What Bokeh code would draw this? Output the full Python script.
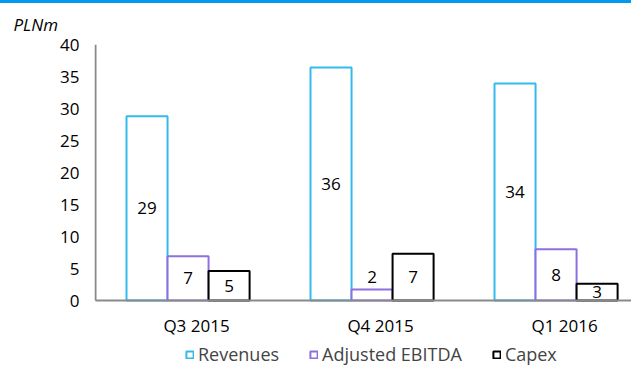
from bokeh.plotting import figure
from bokeh.models import ColumnDataSource, FixedTicker, Legend, LegendItem, Range1d, Div
from bokeh.layouts import column
from bokeh.embed import file_html
from bokeh.resources import INLINE
from bokeh.core.properties import value

categories = ["Q3 2015", "Q4 2015", "Q1 2016"]
revenues = [28.8, 36.4, 33.9]
ebitda = [6.9, 1.7, 8.0]
capex = [4.6, 7.3, 2.6]
series_names = ["Revenues", "Adjusted EBITDA", "Capex"]
y_ticks = [0, 5, 10, 15, 20, 25, 30, 35, 40]

FONT = "Open Sans"
FS = "17px"
colors = ["#33bbee", "#8e6fdf", "#000000"]
axis_color = "#898989"
bar_w = 0.223
offsets = [-bar_w, 0.0, bar_w]
PX = 6.4  # pixels per unit on y

p = figure(width=631, height=363, output_backend="svg", toolbar_location=None,
           x_range=Range1d(-1 / 184, 2.913), y_range=Range1d(-66 / PX, 40),
           min_border_left=94, min_border_right=0, min_border_top=41, min_border_bottom=0)
p.outline_line_color = None
p.grid.visible = False
p.background_fill_color = "white"
p.xaxis.visible = False

renderers = []
for k, (vals, col) in enumerate(zip([revenues, ebitda, capex], colors)):
    xs = [i + 0.503 + offsets[k] for i in range(len(categories))]
    src = ColumnDataSource(dict(x=xs, top=vals,
                                lab=[f"{v:.0f}" for v in vals],
                                ly=[v / 2 if v >= 2 else v + 1.9 for v in vals]))
    r = p.vbar(x="x", top="top", width=bar_w, bottom=0, source=src,
               fill_color="white", line_color=col, line_width=2)
    renderers.append(r)
    p.text(x="x", y="ly", text="lab", source=src, text_align="center",
           text_baseline="middle", text_font=value(FONT), text_font_size=FS,
           text_color="black")

# axis lines
p.segment(x0=[0, 0], y0=[0, 0], x1=[0, 10], y1=[40, 0], line_color=axis_color, line_width=2)

# category labels
cat_src = ColumnDataSource(dict(x=[i + 0.549 for i in range(len(categories))],
                                y=[-25 / PX] * len(categories), t=categories))
p.text(x="x", y="y", text="t", source=cat_src, text_align="center", text_baseline="middle",
       text_font=value(FONT), text_font_size=FS, text_color="black")

# y axis
p.yaxis.ticker = FixedTicker(ticks=y_ticks)
p.yaxis.major_tick_line_color = None
p.yaxis.minor_tick_line_color = None
p.yaxis.axis_line_color = None
p.yaxis.major_label_text_font = FONT
p.yaxis.major_label_text_font_size = FS
p.yaxis.major_label_text_color = "black"
p.yaxis.major_label_standoff = 9

p.title.text = "PLNm"
p.title.text_font = FONT
p.title.text_font_style = "italic"
p.title.text_font_size = FS
p.title.text_color = "black"
p.title.offset = -81
p.title.standoff = 14
p.title.vertical_align = "top"

legend = Legend(items=[LegendItem(label=n, renderers=[r]) for n, r in zip(series_names, renderers)],
                orientation="horizontal", location=(91, 0),
                glyph_width=9, glyph_height=9, label_text_font=FONT,
                label_text_font_size="18px", label_standoff=4, spacing=30,
                padding=0, margin=0, border_line_color=None, background_fill_alpha=0,
                label_height=14)
p.add_layout(legend, "center")

bar = Div(width=631, height=3, styles={"background-color": "#0099ee"}, margin=(0, 0, 0, 0))
layout = column(bar, p, spacing=0)

open("out.html", "w").write(file_html(layout, INLINE))
